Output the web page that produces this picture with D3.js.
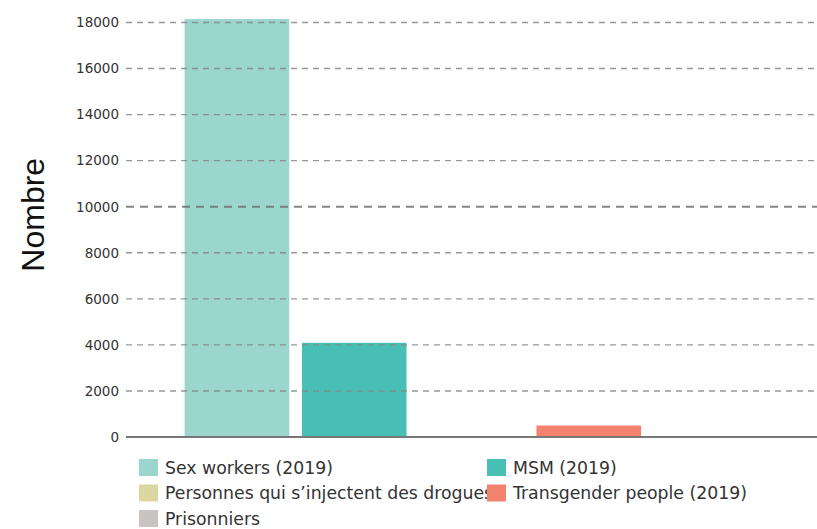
<!DOCTYPE html>
<html>
<head>
<meta charset="utf-8">
<script src="https://cdn.jsdelivr.net/npm/d3@7"></script>
<style>
  html, body { margin: 0; padding: 0; background: #fff; }
  svg { display: block; }
</style>
</head>
<body>
<svg id="chart" width="817" height="529"></svg>
<script>
// ---- data ----
const seriesNames = [
  "Sex workers (2019)",
  "MSM (2019)",
  "Personnes qui s\u2019injectent des drogues",
  "Transgender people (2019)",
  "Prisonniers"
];
const seriesValues = [18150, 4090, null, 500, null];
const seriesColors = ["#9ad6ce", "#48bfb5", "#dcd7a1", "#f3836e", "#c9c4c2"];
const yTicks = [0, 2000, 4000, 6000, 8000, 10000, 12000, 14000, 16000, 18000];
const yTitle = "Nombre";

// ---- layout ----
const svg = d3.select("#chart");
const plotLeft = 126, plotRight = 817, plotTop = 22.5, plotBottom = 437;

const y = d3.scaleLinear().domain([0, 18000]).range([plotBottom, plotTop]);
const x = d3.scaleBand().domain(seriesNames).range([plotLeft, plotRight])
  .paddingInner(0.108).paddingOuter(0.5);

// bars
svg.append("g").selectAll("rect")
  .data(seriesNames.map((n, i) => ({ name: n, value: seriesValues[i], color: seriesColors[i] }))
    .filter(d => d.value != null))
  .join("rect")
  .attr("x", d => x(d.name))
  .attr("width", x.bandwidth())
  .attr("y", d => y(d.value))
  .attr("height", d => y(0) - y(d.value))
  .attr("fill", d => d.color);

// grid (drawn on top, semi-transparent)
const grid = svg.append("g");
grid.selectAll("line")
  .data(yTicks.filter(t => t !== 0))
  .join("line")
  .attr("x1", plotLeft).attr("x2", plotRight)
  .attr("y1", d => y(d)).attr("y2", d => y(d))
  .attr("stroke", d => d === 10000 ? "#707070" : "#858585")
  .attr("stroke-opacity", 0.85)
  .attr("stroke-width", d => d === 10000 ? 2 : 1.4)
  .attr("stroke-dasharray", d => d === 10000 ? "8,6" : "6,5");

// y axis labels
const yAxis = d3.axisLeft(y).tickValues(yTicks).tickSize(0).tickPadding(7).tickFormat(d3.format("d"));
const gy = svg.append("g").attr("transform", `translate(${plotLeft},0)`).call(yAxis);
gy.select(".domain").remove();
gy.selectAll("text")
  .attr("font-family", "DejaVu Sans, sans-serif")
  .attr("font-size", "13.5px")
  .attr("fill", "#333");

// baseline
svg.append("line")
  .attr("x1", plotLeft).attr("x2", plotRight)
  .attr("y1", y(0)).attr("y2", y(0))
  .attr("stroke", "#777").attr("stroke-width", 2);

// y title
svg.append("text")
  .attr("transform", `translate(44, ${(plotTop + plotBottom) / 2 - 15}) rotate(-90)`)
  .attr("text-anchor", "middle")
  .attr("font-family", "Liberation Sans, Arial, sans-serif")
  .attr("font-size", "32px")
  .attr("fill", "#111")
  .text(yTitle);

// legend
const legendCols = [139, 487];
const legendRowTop = 459, legendRowStep = 25.5;
const legend = svg.append("g");
seriesNames.forEach((n, i) => {
  const col = i % 2, row = Math.floor(i / 2);
  const g = legend.append("g")
    .attr("transform", `translate(${legendCols[col]}, ${legendRowTop + row * legendRowStep})`);
  g.append("rect").attr("width", 19).attr("height", 17).attr("fill", seriesColors[i]);
  g.append("text")
    .attr("x", 26).attr("y", 8.5).attr("dy", "0.35em")
    .attr("font-family", "DejaVu Sans, sans-serif")
    .attr("font-size", "17.3px")
    .attr("fill", "#333")
    .text(n);
});
// draw the second-column entries on top (square overlaps long label)
legend.selectAll("g").filter((d, i) => i % 2 === 1).raise();
</script>
</body>
</html>
